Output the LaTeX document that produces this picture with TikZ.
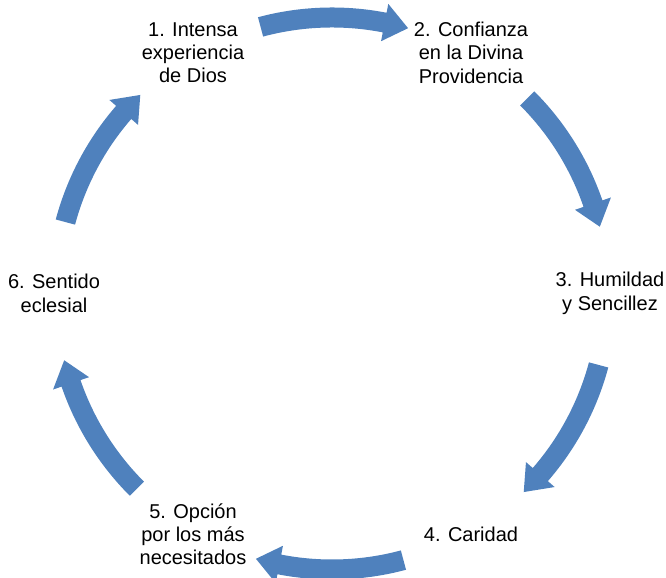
\documentclass[tikz,border=0pt]{standalone}
\usepackage{fontspec}
\setmainfont{Liberation Sans}
\usetikzlibrary{calc}
\definecolor{cycleblue}{RGB}{79,129,189}
\begin{document}
\begin{tikzpicture}[x=0.75pt,y=0.75pt,
  steplabel/.style={align=center,inner sep=0pt,
    font=\fontsize{15}{17.6}\selectfont},
  cyclearrow/.style={fill=cycleblue,draw=none}]
\useasboundingbox (0,0) rectangle (666,577);
\coordinate (c) at (332,283.5);

% step labels on a circle around the centre
\node[steplabel] (s1) at ($(c)+(120:278)$) {1. Intensa\\experiencia\\de Dios};
\node[steplabel] (s2) at ($(c)+(60:278)$) {2. Confianza\\en la Divina\\Providencia};
\node[steplabel] (s3) at ($(c)+(0:278)$) {3. Humildad\\y Sencillez};
\node[steplabel] (s4) at ($(c)+(-60:278)$) {4. Caridad};
\node[steplabel] (s5) at ($(c)+(-120:278)$) {5. Opción\\por los más\\necesitados};
\node[steplabel] (s6) at ($(c)+(180:278)$) {6. Sentido\\eclesial};

% curved block arrows running clockwise between the steps
\foreach \m in {90,30,-30,-90,-150,150}{
  \pgfmathsetmacro{\a}{\m+15}
  \pgfmathsetmacro{\b}{\m-11}
  \pgfmathsetmacro{\t}{\m-16}
  \fill[cyclearrow,shift={(c)}]
    (\a:286) arc[start angle=\a,end angle=\b,radius=286]
    -- (\b:295) -- (\t:276) -- (\b:257) -- (\b:266)
    arc[start angle=\b,end angle=\a,radius=266] -- cycle;
}
\end{tikzpicture}
\end{document}
